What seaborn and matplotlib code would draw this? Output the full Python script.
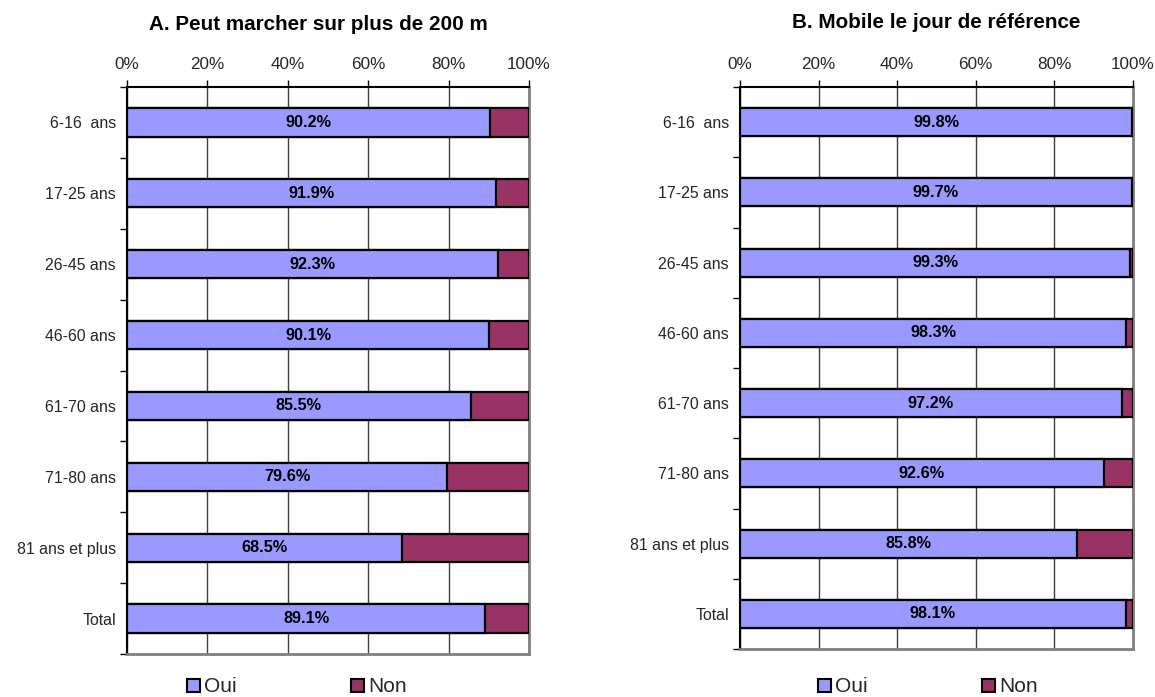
import matplotlib
matplotlib.use("Agg")
import matplotlib.pyplot as plt
from matplotlib.patches import Patch
from matplotlib.ticker import FixedLocator
import seaborn as sns
import pandas as pd
import numpy as np

sns.set_theme(style="white")
plt.rcParams["font.family"] = ["Liberation Sans", "DejaVu Sans"]

categories = ["6-16  ans", "17-25 ans", "26-45 ans", "46-60 ans",
              "61-70 ans", "71-80 ans", "81 ans et plus", "Total"]

marche_oui = [90.2, 91.9, 92.3, 90.1, 85.5, 79.6, 68.5, 89.1]
marche_non = [9.8, 8.1, 7.7, 9.9, 14.5, 20.4, 31.5, 10.9]

mobile_oui = [99.8, 99.7, 99.3, 98.3, 97.2, 92.6, 85.8, 98.1]
mobile_non = [0.2, 0.3, 0.7, 1.7, 2.8, 7.4, 14.2, 1.9]

titles = ["A. Peut marcher sur plus de 200 m", "B. Mobile le jour de référence"]
x_ticks = [0, 20, 40, 60, 80, 100]
x_tick_labels = ["0%", "20%", "40%", "60%", "80%", "100%"]

COL_OUI = "#9999FF"
COL_NON = "#993366"

W, H = 1155, 697
fig = plt.figure(figsize=(W / 100, H / 100), dpi=100)
axes = [
    fig.add_axes([127 / W, 1 - 654 / H, 402 / W, 567 / H]),
    fig.add_axes([740 / W, 1 - 649 / H, 393 / W, 562 / H]),
]
legend_centers = [(297 / W, 1 - 687 / H), (928 / W, 1 - 687 / H)]
title_x = [318 / W, 936 / W]
title_y = [1 - 25 / H, 1 - 22 / H]

panels = [(marche_oui, marche_non), (mobile_oui, mobile_non)]

for k, (ax, (oui, non), title) in enumerate(zip(axes, panels, titles)):
    df = pd.DataFrame({"cat": categories, "oui": oui, "non": non})
    df["total"] = df["oui"] + df["non"]

    # Full-length bars in the "Non" colour, then "Oui" drawn over them
    sns.barplot(data=df, y="cat", x="total", orient="h", color=COL_NON,
                saturation=1, width=0.4, edgecolor="black", linewidth=1.6,
                ax=ax, zorder=3)
    sns.barplot(data=df, y="cat", x="oui", orient="h", color=COL_OUI,
                saturation=1, width=0.4, edgecolor="black", linewidth=1.6,
                ax=ax, zorder=4)

    for i, v in enumerate(df["oui"]):
        ax.text(v / 2, i, f"{v:.1f}%", ha="center", va="center",
                fontsize=11.7, fontweight="bold", color="black", zorder=5)

    ax.set_xlim(0, 100)
    ax.set_ylim(len(categories) - 0.5, -0.5)
    ax.set_xlabel("")
    ax.set_ylabel("")

    ax.xaxis.tick_top()
    ax.set_xticks(x_ticks)
    ax.set_xticklabels(x_tick_labels, fontsize=12.3)
    ax.tick_params(axis="x", which="major", direction="out", length=5,
                   width=1, color="black", pad=6, top=True, bottom=False)

    ax.set_yticks(range(len(categories)))
    ax.set_yticklabels(categories, fontsize=11.4)
    ax.tick_params(axis="y", which="major", length=0, pad=8)
    ax.yaxis.set_minor_locator(FixedLocator(np.arange(-0.5, len(categories), 1)))
    ax.tick_params(axis="y", which="minor", direction="out", length=5,
                   width=1, color="black", left=True)

    ax.grid(axis="x", color="#404040", linewidth=1, zorder=0)
    ax.grid(axis="y", visible=False)
    ax.set_axisbelow(True)

    for side, col in [("top", "black"), ("left", "black"),
                      ("right", "#808080"), ("bottom", "#808080")]:
        ax.spines[side].set_visible(True)
        ax.spines[side].set_color(col)
        ax.spines[side].set_linewidth(1.5 if col == "black" else 2)

    fig.text(title_x[k], title_y[k], title, ha="center", va="center",
             fontsize=14.9, fontweight="bold", color="black")

    handles = [Patch(facecolor=COL_OUI, edgecolor="black", linewidth=1.5, label="Oui"),
               Patch(facecolor=COL_NON, edgecolor="black", linewidth=1.5, label="Non")]
    fig.legend(handles=handles, loc="center", bbox_to_anchor=legend_centers[k],
               bbox_transform=fig.transFigure, ncol=2, frameon=False,
               fontsize=15, handlelength=0.6, handleheight=0.6,
               handletextpad=0.2, columnspacing=5.5, borderpad=0)

fig.savefig("out.png", dpi=100)
